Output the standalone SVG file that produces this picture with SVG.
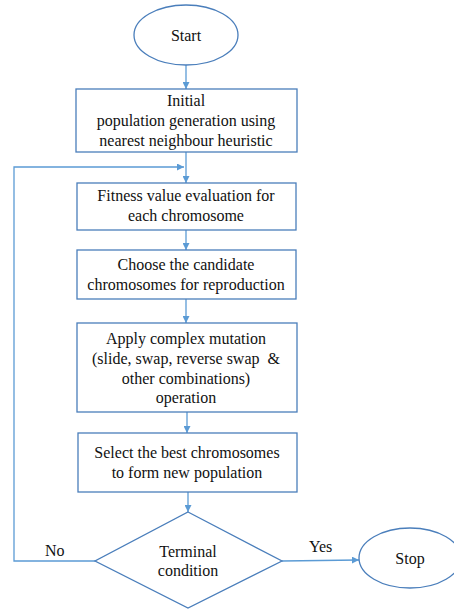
<svg xmlns="http://www.w3.org/2000/svg" width="454" height="609" viewBox="0 0 454 609">
<defs>
<style>
.shape{fill:#ffffff;stroke:#4a7ebb;stroke-width:1.3}
.conn{fill:none;stroke:#5b9bd5;stroke-width:1.3}
text{font-family:'Liberation Serif',Tinos,'Noto Serif',FreeSerif,Times,serif;font-size:16px;fill:#111111;text-anchor:middle}
.lbl{text-anchor:start}
</style>
<marker id="ah" viewBox="0 0 10 10" refX="10" refY="5" markerWidth="7" markerHeight="7" markerUnits="userSpaceOnUse" orient="auto">
<path d="M0,0 L10,5 L0,10 Z" fill="#5b9bd5"/>
</marker>
</defs>
<rect width="454" height="609" fill="#ffffff"/>
<g id="connectors">
<line class="conn" x1="186" y1="65" x2="186" y2="89" marker-end="url(#ah)"/>
<line class="conn" x1="186" y1="152" x2="186" y2="183" marker-end="url(#ah)"/>
<polyline class="conn" points="95,561 14,561 14,167 184,167" marker-end="url(#ah)"/>
<line class="conn" x1="186" y1="230" x2="186" y2="250" marker-end="url(#ah)"/>
<line class="conn" x1="186" y1="299" x2="186" y2="323" marker-end="url(#ah)"/>
<line class="conn" x1="187" y1="412" x2="187" y2="433" marker-end="url(#ah)"/>
<line class="conn" x1="188" y1="492" x2="188" y2="512" marker-end="url(#ah)"/>
<line class="conn" x1="282" y1="561" x2="359" y2="560" marker-end="url(#ah)"/>
<text class="lbl" x="45" y="556">No</text>
<text class="lbl" x="309" y="552">Yes</text>
</g>
<g id="start">
<ellipse class="shape" cx="186" cy="35" rx="52" ry="30"/>
<text x="186" y="41">Start</text>
</g>
<g id="init">
<rect class="shape" x="76" y="89" width="221" height="63"/>
<text x="186" y="106">Initial</text>
<text x="186" y="126">population generation using</text>
<text x="186" y="146">nearest neighbour heuristic</text>
</g>
<g id="fitness">
<rect class="shape" x="77" y="183" width="219" height="47"/>
<text x="186" y="201">Fitness value evaluation for</text>
<text x="186" y="221">each chromosome</text>
</g>
<g id="choose">
<rect class="shape" x="77" y="250" width="219" height="49"/>
<text x="186" y="270">Choose the candidate</text>
<text x="186" y="290">chromosomes for reproduction</text>
</g>
<g id="mutation">
<rect class="shape" x="77" y="323" width="220" height="89"/>
<text x="186" y="344">Apply complex mutation</text>
<text x="186" y="364" xml:space="preserve">(slide, swap, reverse swap  &amp;</text>
<text x="186" y="384">other combinations)</text>
<text x="186" y="403">operation</text>
</g>
<g id="select">
<rect class="shape" x="78" y="433" width="219" height="59"/>
<text x="187" y="458">Select the best chromosomes</text>
<text x="187" y="478">to form new population</text>
</g>
<g id="terminal">
<polygon class="shape" points="188,512 282,561 188,608 95,561"/>
<text x="188" y="557">Terminal</text>
<text x="188" y="576">condition</text>
</g>
<g id="stop">
<ellipse class="shape" cx="410" cy="558" rx="51" ry="30"/>
<text x="410" y="564">Stop</text>
</g>
</svg>
